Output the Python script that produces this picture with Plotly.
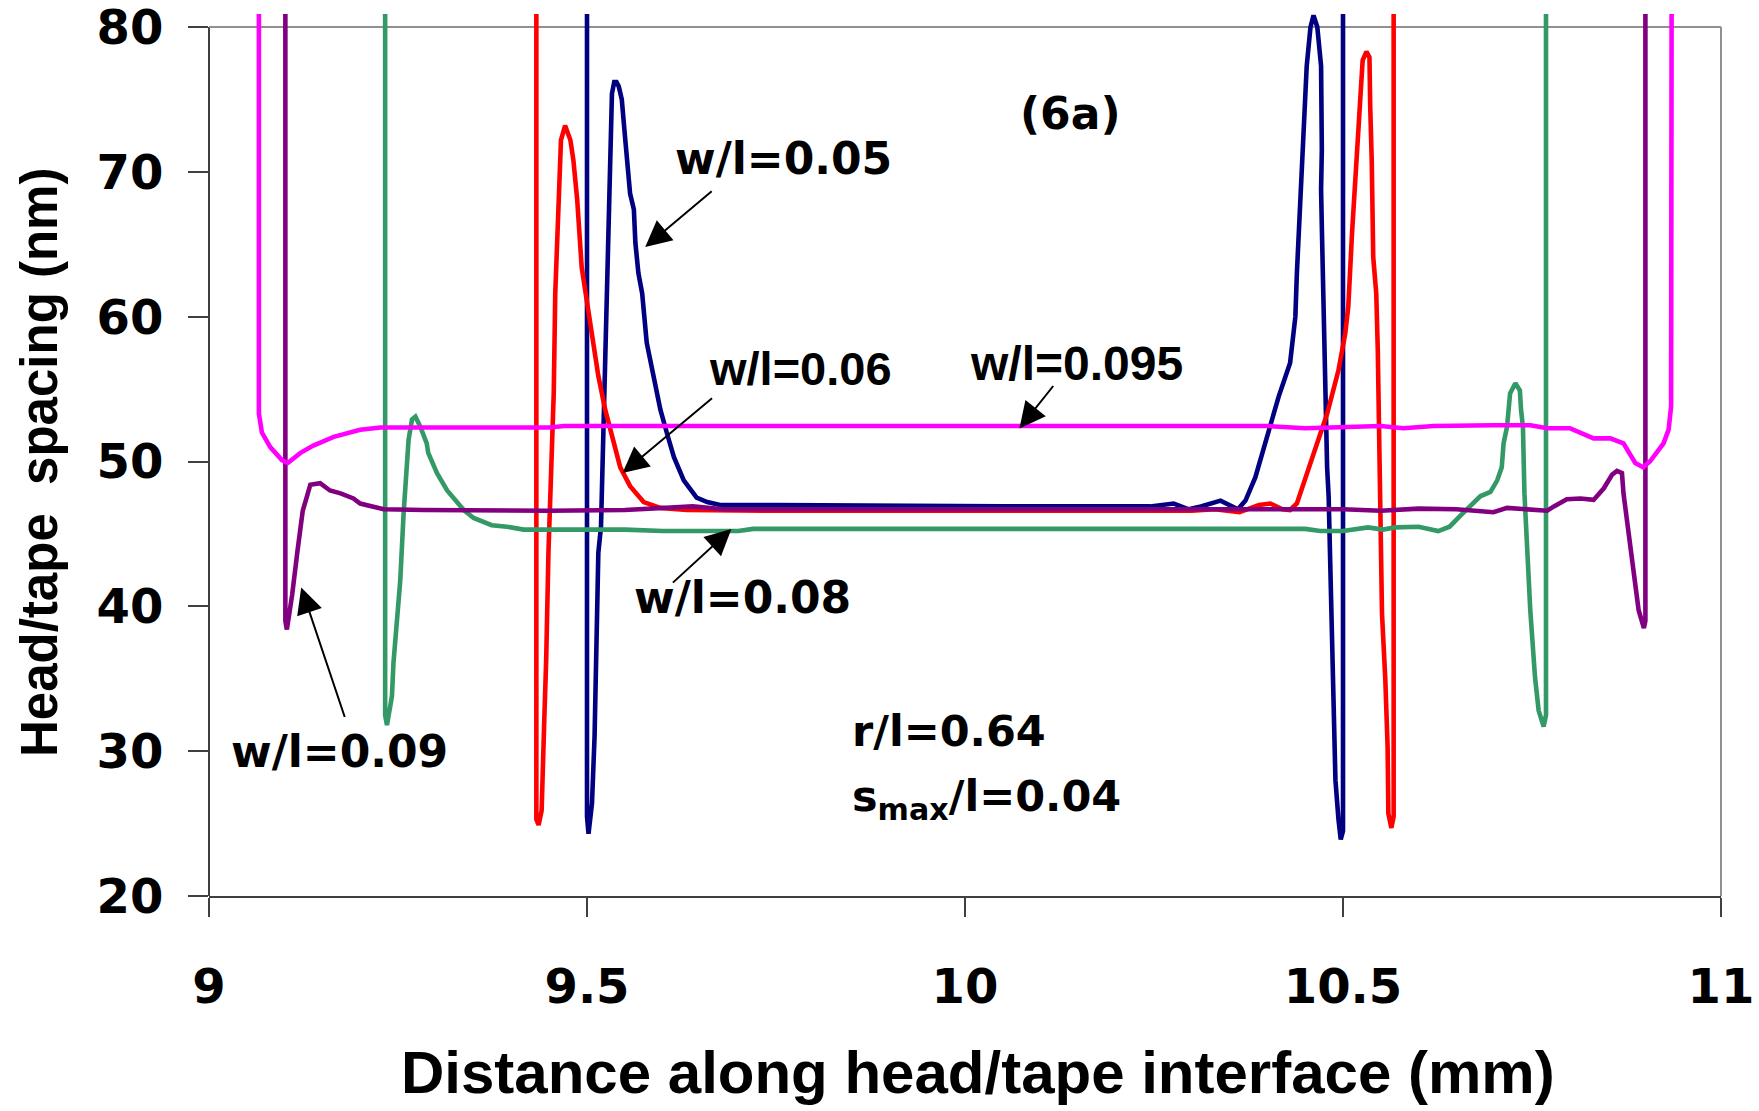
import plotly.graph_objects as go

# ---- data ----
x_005 = [9.500, 9.500, 9.502, 9.5066, 9.510, 9.512, 9.515, 9.5185, 9.522, 9.5255, 9.527, 9.5286, 9.532, 9.533, 9.536, 9.539, 9.542, 9.546, 9.551, 9.557, 9.562, 9.564, 9.568, 9.573, 9.579, 9.588, 9.597, 9.606, 9.615, 9.628, 9.645, 9.659, 9.676, 9.75, 9.85, 9.95, 10.05, 10.15, 10.245, 10.276, 10.296, 10.312, 10.338, 10.361, 10.371, 10.384, 10.399, 10.415, 10.430, 10.435, 10.437, 10.439, 10.4435, 10.448, 10.450, 10.452, 10.457, 10.461, 10.466, 10.468, 10.471, 10.472, 10.471, 10.472, 10.474, 10.477, 10.479, 10.481, 10.483, 10.485, 10.487, 10.488, 10.490, 10.494, 10.497, 10.500, 10.500]
y_005 = [95, 25.5, 24.3, 26.4, 31.0, 36.8, 43.7, 45.5, 52.4, 59.3, 62.8, 67.4, 72.2, 75.4, 76.2, 76.2, 75.9, 75.0, 72.0, 68.5, 67.4, 65.1, 63.0, 61.6, 58.2, 55.9, 53.6, 51.9, 50.3, 48.7, 47.5, 47.2, 47.0, 47.0, 46.95, 46.9, 46.9, 46.9, 46.9, 47.1, 46.7, 46.9, 47.3, 46.7, 47.3, 48.9, 51.7, 54.5, 56.8, 58.9, 60.0, 63.0, 68.0, 71.5, 75.0, 77.3, 80.0, 80.8, 80.0, 78.6, 77.3, 71.5, 68.8, 66.2, 61.2, 54.2, 49.6, 47.6, 43.0, 39.5, 34.9, 31.5, 28.0, 25.3, 23.9, 24.5, 95]

x_006 = [9.433, 9.433, 9.436, 9.440, 9.4435, 9.446, 9.449, 9.4515, 9.456, 9.458, 9.460, 9.465, 9.4656, 9.471, 9.478, 9.482, 9.487, 9.493, 9.498, 9.507, 9.515, 9.524, 9.533, 9.544, 9.557, 9.575, 9.597, 9.632, 9.75, 9.9, 10.05, 10.2, 10.30, 10.33, 10.363, 10.389, 10.404, 10.42, 10.430, 10.439, 10.452, 10.466, 10.479, 10.494, 10.503, 10.507, 10.512, 10.5185, 10.523, 10.526, 10.531, 10.535, 10.536, 10.538, 10.540, 10.544, 10.546, 10.548, 10.549, 10.5516, 10.556, 10.559, 10.560, 10.564, 10.567, 10.567]
y_006 = [95, 25.3, 24.9, 25.9, 32.2, 36.3, 43.7, 47.8, 54.7, 61.6, 64.4, 69.7, 72.2, 73.2, 72.2, 70.8, 68.1, 63.4, 61.6, 58.9, 55.9, 53.6, 51.7, 49.6, 48.3, 47.2, 46.8, 46.65, 46.6, 46.6, 46.6, 46.6, 46.6, 46.7, 46.5, 47.0, 47.1, 46.7, 46.65, 47.1, 49.2, 51.3, 53.3, 56.3, 58.85, 60.7, 65.8, 71.5, 75.0, 77.7, 78.3, 77.9, 74.5, 70.8, 64.1, 61.6, 57.7, 51.9, 46.6, 39.5, 34.9, 30.3, 25.7, 24.7, 25.5, 95]

x_008 = [9.233, 9.233, 9.2354, 9.242, 9.244, 9.2487, 9.253, 9.2574, 9.262, 9.264, 9.2685, 9.273, 9.2795, 9.288, 9.290, 9.3016, 9.315, 9.326, 9.337, 9.350, 9.374, 9.394, 9.416, 9.55, 9.60, 9.70, 9.72, 9.9, 10.1, 10.3, 10.45, 10.47, 10.50, 10.533, 10.553, 10.569, 10.600, 10.626, 10.641, 10.656, 10.672, 10.6816, 10.695, 10.704, 10.710, 10.7124, 10.717, 10.721, 10.728, 10.734, 10.7355, 10.738, 10.740, 10.743, 10.7477, 10.754, 10.7588, 10.7654, 10.7685, 10.7685]
y_008 = [95, 32.5, 31.8, 33.8, 36.1, 39.5, 41.8, 46.4, 49.9, 51.5, 52.9, 53.1, 52.4, 51.25, 50.6, 49.2, 48.0, 47.3, 46.65, 46.1, 45.6, 45.5, 45.3, 45.3, 45.2, 45.2, 45.35, 45.35, 45.35, 45.35, 45.35, 45.2, 45.2, 45.45, 45.3, 45.45, 45.5, 45.2, 45.5, 46.3, 47.1, 47.6, 47.9, 48.7, 49.6, 51.25, 52.4, 54.7, 55.4, 54.9, 53.55, 52.4, 47.8, 44.35, 39.75, 35.1, 32.8, 31.7, 32.5, 95]

x_009 = [9.101, 9.101, 9.103, 9.110, 9.117, 9.124, 9.1296, 9.134, 9.147, 9.160, 9.174, 9.191, 9.200, 9.231, 9.284, 9.35, 9.45, 9.55, 9.60, 9.64, 9.68, 9.8, 10.0, 10.2, 10.4, 10.5, 10.55, 10.6, 10.65, 10.699, 10.717, 10.74, 10.770, 10.779, 10.796, 10.814, 10.8315, 10.845, 10.856, 10.8624, 10.869, 10.871, 10.878, 10.8844, 10.891, 10.898, 10.900, 10.900]
y_009 = [95, 39.0, 38.4, 40.8, 43.8, 46.6, 47.6, 48.4, 48.5, 48.0, 47.8, 47.45, 47.1, 46.7, 46.65, 46.6, 46.6, 46.65, 46.8, 46.9, 46.7, 46.7, 46.7, 46.7, 46.65, 46.7, 46.6, 46.75, 46.7, 46.5, 46.8, 46.7, 46.6, 46.9, 47.4, 47.45, 47.35, 48.15, 49.1, 49.35, 49.2, 47.8, 45.0, 42.05, 39.75, 38.5, 39.0, 95]

x_0095 = [9.066, 9.066, 9.070, 9.081, 9.0965, 9.104, 9.121, 9.138, 9.165, 9.200, 9.227, 9.45, 9.47, 9.6, 9.8, 10.0, 10.2, 10.40, 10.45, 10.50, 10.55, 10.58, 10.62, 10.70, 10.748, 10.770, 10.80, 10.8315, 10.8536, 10.871, 10.878, 10.8866, 10.897, 10.906, 10.924, 10.9307, 10.934, 10.935]
y_0095 = [95, 53.3, 52.0, 51.0, 50.1, 49.9, 50.6, 51.1, 51.7, 52.2, 52.35, 52.35, 52.45, 52.45, 52.45, 52.45, 52.45, 52.45, 52.3, 52.35, 52.45, 52.3, 52.45, 52.5, 52.5, 52.3, 52.3, 51.6, 51.6, 51.25, 50.6, 49.9, 49.6, 50.0, 51.25, 52.2, 53.8, 95]

series_names = ["w/l=0.05", "w/l=0.06", "w/l=0.08", "w/l=0.09", "w/l=0.095"]
series_colors = ["#000080", "#FF0000", "#339966", "#800080", "#FF00FF"]
series_x = [x_005, x_006, x_008, x_009, x_0095]
series_y = [y_005, y_006, y_008, y_009, y_0095]

x_ticks = [9, 9.5, 10, 10.5, 11]
x_tick_labels = ["9", "9.5", "10", "10.5", "11"]
y_ticks = [20, 30, 40, 50, 60, 70, 80]

# label annotations: (text, x, y, font family, size)
labels = [
    ("w/l=0.05", 9.760, 70.95, "DejaVu Sans", 44),
    ("w/l=0.06", 9.783, 56.4, "Liberation Sans", 47),
    ("w/l=0.095", 10.147, 56.8, "Liberation Sans", 48),
    ("w/l=0.08", 9.706, 40.6, "DejaVu Sans", 44),
    ("w/l=0.09", 9.172, 29.95, "DejaVu Sans", 44),
    ("(6a)", 10.140, 74.05, "DejaVu Sans", 44),
]
# arrows: head (x, y) and tail offset in pixels
arrows = [
    (9.577, 64.81, 68, -57),
    (9.547, 49.2, 91, -76),
    (9.691, 45.34, -60, 55),
    (10.072, 52.28, 35, -44),
    (9.122, 41.3, 44, 131),
]

fig = go.Figure()
for name, col, xs, ys in zip(series_names, series_colors, series_x, series_y):
    fig.add_trace(go.Scatter(x=xs, y=ys, mode="lines", name=name,
                             line=dict(color=col, width=4.6), showlegend=False))

Y_TOP = 80.9
frac80 = (80 - 20) / (Y_TOP - 20)

fig.update_layout(
    width=1759, height=1111,
    margin=dict(l=209, r=38, t=14, b=215, autoexpand=False),
    plot_bgcolor="white", paper_bgcolor="white",
    showlegend=False,
    xaxis=dict(range=[9, 11], tickvals=x_ticks, ticktext=x_tick_labels,
               showgrid=False, zeroline=False, showline=True, automargin=False,
               linecolor="#404040", linewidth=2,
               ticks="outside", ticklen=19, tickwidth=1.5, tickcolor="#404040",
               tickfont=dict(family="DejaVu Sans", size=48, color="black", weight="bold"),
               ticklabelstandoff=28, ticklabeloverflow="allow"),
    yaxis=dict(range=[20, Y_TOP], tickvals=y_ticks,
               showgrid=False, zeroline=False, showline=False, automargin=False,
               ticks="outside", ticklen=20, tickwidth=1.5, tickcolor="#404040",
               tickfont=dict(family="DejaVu Sans", size=48, color="black", weight="bold"),
               ticklabelstandoff=15, ticklabeloverflow="allow"),
)

# frame
fig.add_shape(type="line", xref="paper", yref="paper", x0=0, x1=0, y0=0, y1=frac80,
              line=dict(color="#404040", width=2), layer="below")
fig.add_shape(type="line", xref="paper", yref="paper", x0=0, x1=1, y0=frac80, y1=frac80,
              line=dict(color="#909090", width=2), layer="below")
fig.add_shape(type="line", xref="paper", yref="paper", x0=1, x1=1, y0=0, y1=frac80,
              line=dict(color="#909090", width=2), layer="below")

for text, x, y, fam, size in labels:
    fig.add_annotation(x=x, y=y, xref="x", yref="y", text=text, showarrow=False,
                       xanchor="center", yanchor="middle",
                       font=dict(family=fam, size=size, color="black", weight="bold"))

fig.add_annotation(x=9.848, y=31.4, xref="x", yref="y", text="r/l=0.64", showarrow=False,
                   xanchor="left", yanchor="middle",
                   font=dict(family="DejaVu Sans", size=43, color="black", weight="bold"))
fig.add_annotation(x=9.848, y=26.7, xref="x", yref="y", text="s<sub>max</sub>/l=0.04", showarrow=False,
                   xanchor="left", yanchor="middle",
                   font=dict(family="DejaVu Sans", size=43, color="black", weight="bold"))

for hx, hy, ax, ay in arrows:
    fig.add_annotation(x=hx, y=hy, xref="x", yref="y", text="", showarrow=True,
                       ax=ax, ay=ay, arrowhead=2, arrowsize=2.6, arrowwidth=2,
                       arrowcolor="black", standoff=0, startstandoff=0)

# axis titles
fig.add_annotation(x=(978 - 209) / 1512, y=(896 - 1072) / 882, xref="paper", yref="paper",
                   text="Distance along head/tape interface (mm)", showarrow=False,
                   xanchor="center", yanchor="middle",
                   font=dict(family="Liberation Sans", size=60, color="black", weight="bold"))
fig.add_annotation(x=(40 - 209) / 1512, y=(896 - 463) / 882, xref="paper", yref="paper",
                   text="Head/tape  spacing (nm)", showarrow=False, textangle=-90,
                   xanchor="center", yanchor="middle",
                   font=dict(family="Liberation Sans", size=51, color="black", weight="bold"))

fig.write_html("out.html")
